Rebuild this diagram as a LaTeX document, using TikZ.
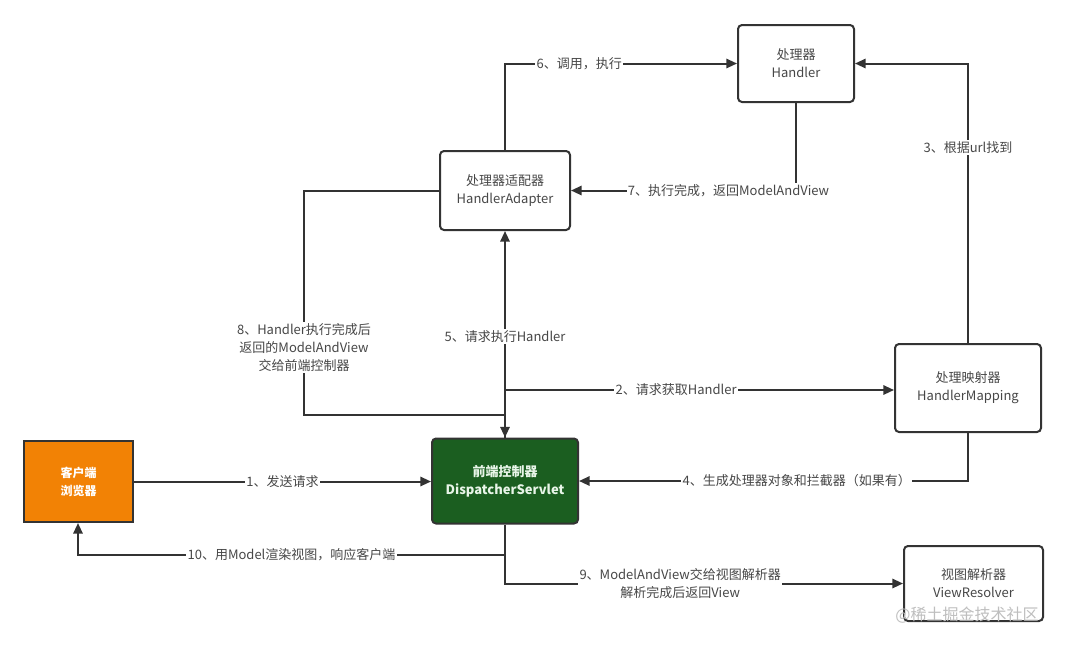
\documentclass[tikz,border=0pt]{standalone}
\usepackage{fontspec}
\setmainfont{Noto Sans CJK SC}
\usepackage{tikz}
\usetikzlibrary{arrows.meta, positioning, calc}
\definecolor{linegray}{RGB}{51, 51, 51}
\definecolor{clientorange}{RGB}{242, 130, 5}
\definecolor{servletgreen}{RGB}{27, 94, 32}
\definecolor{servlettext}{RGB}{232, 245, 232}
\definecolor{markgray}{RGB}{190, 190, 190}

\tikzset{
  box/.style={draw=linegray, line width=1.5pt, rounded corners=3pt, fill=white,
              align=center, font=\fontsize{9.75pt}{13.5pt}\selectfont, text=linegray!90},
  flow/.style={draw=linegray, line width=1.5pt, -{Triangle[length=8pt,width=7pt]}},
  lbl/.style={fill=white, inner sep=1pt, align=center, text=linegray!90,
              font=\fontsize{9.75pt}{13.5pt}\selectfont}
}

\begin{document}
\begin{tikzpicture}[x=0.75pt, y=-0.75pt]
  \useasboundingbox (0,0) rectangle (1066,647);

  % boxes
  \node[box, rounded corners=0pt, fill=clientorange, text=white, font=\bfseries\fontsize{9pt}{13.5pt}\selectfont,
        minimum width=81.75pt, minimum height=60.75pt] (client) at (78.5,481.5) {客户端\\浏览器};
  \node[box, fill=servletgreen, text=servlettext, font=\bfseries\fontsize{9.75pt}{13.5pt}\selectfont,
        minimum width=109.5pt, minimum height=63.75pt] (disp) at (505,481) {前端控制器\\DispatcherServlet};
  \node[box, minimum width=97.5pt, minimum height=59.25pt] (adp) at (505,190.5) {处理器适配器\\HandlerAdapter};
  \node[box, minimum width=87pt, minimum height=57.75pt] (hdl) at (796,63.5) {处理器\\Handler};
  \node[box, minimum width=109.5pt, minimum height=66pt] (map) at (968,388) {处理映射器\\HandlerMapping};
  \node[box, minimum width=104.25pt, minimum height=56.25pt] (res) at (973.5,583.5) {视图解析器\\ViewResolver};

  \coordinate (j2) at (505,390);
  \coordinate (c8) at (304,415);
  \coordinate (j10) at (505,555);
  \coordinate (c10) at (78,555);

  % connectors
  \draw[flow] (client.east) -- (client.east -| disp.west) node[lbl, midway] {1、发送请求};
  \draw[flow] (j2) -- (j2 -| map.west) node[lbl, pos=0.44] {2、请求获取Handler};
  \draw[flow] (map.north) |- (hdl.east) node[lbl, pos=0.35] {3、根据url找到};
  \draw[flow] (map.south) |- (disp.east) node[lbl, pos=0.72] {4、生成处理器对象和拦截器（如果有）};
  \draw[flow] (disp.north) -- (adp.south) node[lbl, pos=0.49] {5、请求执行Handler};
  \draw[flow] (adp.north) |- (hdl.west) node[lbl, pos=0.66] {6、调用，执行};
  \draw[flow] (hdl.south) |- (adp.east) node[lbl, pos=0.65] {7、执行完成，返回ModelAndView};
  \draw[flow] (adp.west) -| (c8) node[lbl, pos=0.85] {8、Handler执行完成后\\返回的ModelAndView\\交给前端控制器} -| (disp.north);
  \draw[flow] (disp.south) |- (res.west) node[lbl, pos=0.72] {9、ModelAndView交给视图解析器\\解析完成后返回View};
  \draw[flow] (j10) -- (c10) node[lbl, pos=0.5] {10、用Model渲染视图，响应客户端} -- (client.south -| c10);

  % watermark
  \node[text=markgray, font=\fontsize{12pt}{14pt}\selectfont] (mark) at (967,615) {@稀土掘金技术社区};
\end{tikzpicture}
\end{document}
